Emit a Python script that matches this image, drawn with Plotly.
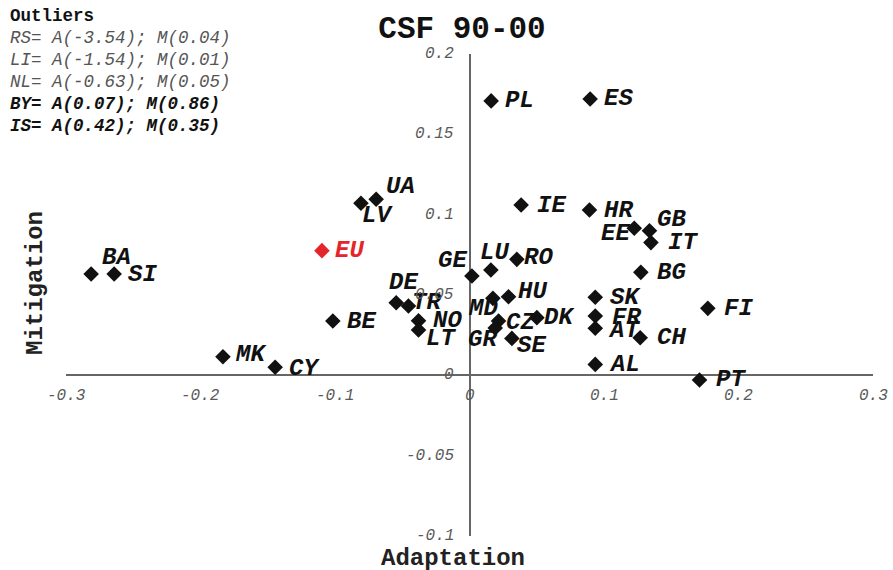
import plotly.graph_objects as go

# ---- data ----
countries = ["PL", "ES", "UA", "LV", "IE", "HR", "EE", "GB", "IT", "EU", "LU", "RO",
             "GE", "BG", "BA", "SI", "SK", "DE", "TR", "MD", "HU", "FI", "BE", "FR",
             "DK", "NO", "CZ", "AT", "LT", "GR", "CH", "SE", "MK", "CY", "AL", "PT"]
adaptation = [0.0161, 0.0897, -0.0694, -0.0807, 0.0384, 0.0892, 0.1225, 0.1338, 0.1349,
              -0.1097, 0.0159, 0.0352, 0.0018, 0.1274, -0.2813, -0.2642, 0.0935, -0.0545,
              -0.0454, 0.0174, 0.0290, 0.1772, -0.1016, 0.0935, 0.0501, -0.0379, 0.0216,
              0.0935, -0.0379, 0.0191, 0.1269, 0.0315, -0.1833, -0.1445, 0.0935, 0.1710]
mitigation = [0.1708, 0.1720, 0.1096, 0.1071, 0.1060, 0.1029, 0.0915, 0.0900, 0.0826,
              0.0776, 0.0656, 0.0722, 0.0618, 0.0641, 0.0631, 0.0631, 0.0486, 0.0452,
              0.0432, 0.0479, 0.0489, 0.0417, 0.0338, 0.0369, 0.0359, 0.0340, 0.0338,
              0.0293, 0.0282, 0.0295, 0.0234, 0.0230, 0.0116, 0.0050, 0.0068, -0.0029]

x_ticks = [-0.3, -0.2, -0.1, 0, 0.1, 0.2, 0.3]
x_tick_labels = ["-0.3", "-0.2", "-0.1", "0", "0.1", "0.2", "0.3"]
y_ticks = [-0.1, -0.05, 0, 0.05, 0.1, 0.15, 0.2]
y_tick_labels = ["-0.1", "-0.05", "0", "0.05", "0.1", "0.15", "0.2"]

outlier_lines = ["RS= A(-3.54); M(0.04)", "LI= A(-1.54); M(0.01)", "NL= A(-0.63); M(0.05)",
                 "BY= A(0.07); M(0.86)", "IS= A(0.42); M(0.35)"]
outlier_bold = [False, False, False, True, True]

title_text = "CSF 90-00"
x_title = "Adaptation"
y_title = "Mitigation"

# ---- label placement (style: anchor, x offset px, y offset px downward) ----
label_pos = {
    "PL": ("left", 12, 0), "ES": ("left", 12, 0), "UA": ("left", 8, -13),
    "LV": ("left", -1, 12), "IE": ("left", 14, 0), "HR": ("left", 13, 0),
    "EE": ("right", -2, 5), "GB": ("left", 6, -11), "IT": ("left", 15, 0),
    "EU": ("left", 11, 0), "LU": ("center", 4, -17), "RO": ("left", 5, -2),
    "GE": ("right", -3, -16), "BG": ("left", 14, 0), "BA": ("left", 9, -16),
    "SI": ("left", 12, 1), "SK": ("left", 13, 0), "DE": ("center", 7, -20),
    "TR": ("left", 2, -3), "MD": ("center", -10, 10), "HU": ("left", 7, -5),
    "FI": ("left", 14, 0), "BE": ("left", 12, 0), "FR": ("left", 15, 1),
    "DK": ("left", 5, 0), "NO": ("left", 12, 0), "CZ": ("left", 5, 1),
    "AT": ("left", 11, 2), "LT": ("left", 5, 8), "GR": ("center", -13, 12),
    "CH": ("left", 15, 0), "SE": ("left", 3, 7), "MK": ("left", 10, -2),
    "CY": ("left", 12, 1), "AL": ("left", 12, 0), "PT": ("left", 14, 0),
}

MONO = "Liberation Mono, Courier New, monospace"
RED = "#e4262b"
colors = [RED if c == "EU" else "#111111" for c in countries]

# plot area in pixels (for converting page positions to paper coords)
L, R, T, B, W, H = 66, 20, 54, 34, 893, 570
PW, PH = W - L - R, H - T - B


def px(x):
    return (x - L) / PW


def py(y):
    return (H - B - y) / PH


fig = go.Figure()
fig.add_trace(go.Scatter(
    x=adaptation, y=mitigation, mode="markers",
    marker=dict(symbol="diamond", size=12, color=colors, line=dict(width=0)),
    hoverinfo="text", text=countries, showlegend=False,
))

annotations = []
for c, xv, yv, col in zip(countries, adaptation, mitigation, colors):
    anchor, dx, dy = label_pos[c]
    annotations.append(dict(
        x=xv, y=yv, xref="x", yref="y", text=c, showarrow=False,
        xanchor=anchor, yanchor="middle", xshift=dx, yshift=-dy,
        font=dict(family=MONO, size=24, color=col, weight="bold", style="italic"),
    ))

tick_font = dict(family=MONO, size=16, color="#5a5a5a", style="italic")
for v, t in zip(x_ticks, x_tick_labels):
    annotations.append(dict(x=v, y=0, xref="x", yref="y", text=t, showarrow=False,
                            xanchor="center", yanchor="middle", yshift=-21, font=tick_font))
for v, t in zip(y_ticks, y_tick_labels):
    annotations.append(dict(x=0, y=v, xref="x", yref="y", text=t, showarrow=False,
                            xanchor="right", yanchor="middle", xshift=-14, font=tick_font))

# axis titles
annotations.append(dict(x=px(35), y=py(283), xref="paper", yref="paper", text=y_title,
                        textangle=-90, showarrow=False, xanchor="center", yanchor="middle",
                        font=dict(family=MONO, size=24, color="#222", weight="bold")))
annotations.append(dict(x=px(453), y=py(558), xref="paper", yref="paper", text=x_title,
                        showarrow=False, xanchor="center", yanchor="middle",
                        font=dict(family=MONO, size=24, color="#222", weight="bold")))

# outliers block
annotations.append(dict(x=px(8), y=py(16), xref="paper", yref="paper",
                        text="Outliers", showarrow=False, xanchor="left", yanchor="middle",
                        font=dict(family=MONO, size=17.5, color="#111", weight="bold")))
for i, (line, bold) in enumerate(zip(outlier_lines, outlier_bold)):
    annotations.append(dict(
        x=px(8), y=py(38 + 22 * i), xref="paper", yref="paper",
        text=line, showarrow=False, xanchor="left", yanchor="middle",
        font=dict(family=MONO, size=17.5, color="#111" if bold else "#555",
                  weight="bold" if bold else "normal", style="italic"),
    ))

fig.update_layout(
    width=W, height=H,
    margin=dict(l=L, r=R, t=T, b=B),
    paper_bgcolor="white", plot_bgcolor="white",
    title=dict(text=title_text, x=462 / W, y=1 - 27 / H, xref="container",
               yref="container", xanchor="center", yanchor="middle",
               font=dict(family=MONO, size=31, color="#111", weight="bold")),
    xaxis=dict(range=[-0.3, 0.3], showgrid=False, showticklabels=False, ticks="",
               zeroline=True, zerolinecolor="#666", zerolinewidth=1.5, showline=False,
               fixedrange=True),
    yaxis=dict(range=[-0.1, 0.2], showgrid=False, showticklabels=False, ticks="",
               zeroline=True, zerolinecolor="#666", zerolinewidth=1.5, showline=False,
               fixedrange=True),
    annotations=annotations,
)

fig.write_html("out.html", config={"displayModeBar": False},
               post_script="document.body.style.margin='0px';")
